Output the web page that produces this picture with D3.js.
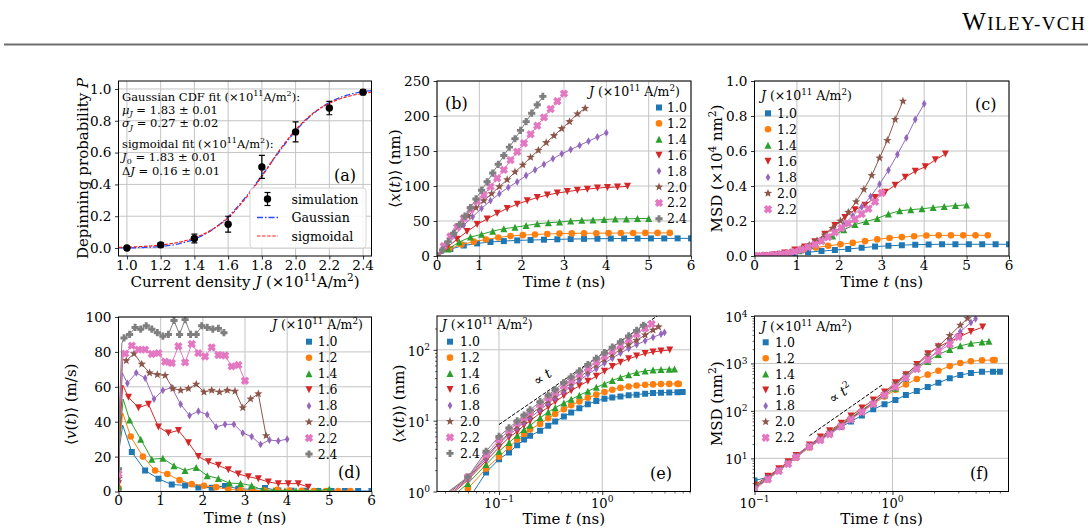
<!DOCTYPE html>
<html><head><meta charset="utf-8">
<script src="https://cdn.jsdelivr.net/npm/d3@7"></script>
<style>
body{margin:0;background:#fff}
svg{display:block}
text{font-family:'DejaVu Serif',serif;fill:#000}
</style>
</head><body>
<script>
// ================= DATA =================
const seriesJ = ['1.0','1.2','1.4','1.6','1.8','2.0','2.2','2.4'];
const colors = ['#1f77b4','#ff7f0e','#2ca02c','#d62728','#9467bd','#8c564b','#e377c2','#7f7f7f'];
const markers = ['s','o','^','v','d','*','X','P'];
const tMax = [6, 5.5, 5, 4.5, 4, 3.5, 3, 2.5];   // simulated duration of each series (ns)
const nLin = 20;                                  // samples per series on the linear plots

// (a) depinning probability
const depJ   = [1.0,1.2,1.4,1.6,1.8,2.0,2.2,2.4];
const depP   = [0.0,0.02,0.06,0.15,0.51,0.73,0.88,0.98];
const depErr = [0.008,0.014,0.028,0.05,0.072,0.063,0.042,0.016];
const fitJ     = [0.95,1.0,1.1,1.2,1.3,1.4,1.5,1.6,1.7,1.8,1.9,2.0,2.1,2.2,2.3,2.4,2.45];
const fitGauss = [0.0006,0.001,0.0035,0.0099,0.025,0.056,0.111,0.197,0.315,0.456,0.602,0.736,0.841,0.915,0.959,0.983,0.989];
const fitSigm  = [0.004,0.0055,0.0104,0.019,0.035,0.064,0.113,0.19,0.308,0.45,0.608,0.743,0.844,0.91,0.95,0.972,0.98];

// (b) <x(t)> in nm, linear time samples
const posLin = [
 [0,10,15,18,20,21.3,22.3,22.8,23.3,23.8,24.2,24.5,24.7,24.9,25,25,25.1,25.1,25.2,25.2],
 [0,10,16.5,20.5,23.5,26.5,28.5,29.8,30.8,31.5,32,32.3,32.5,32.6,32.7,32.8,32.9,33,33,33],
 [0,10,20,27,31,35.5,39,41,43.5,46,47.5,48.5,50,51,51.5,52,53,53,53.5,53.5],
 [0,12,24,35,45,53,61,68,74,79,83.5,87,90,92,94,95.5,97,98,98.5,99.5],
 [0,15,30,44,56,68,79,89,98,106,115,123,131,139,146,152,158,164,170,176],
 [0,16,31,45,57,69,79,89,99,109,120,130,141,151,162,172,182,192,203,211],
 [0,14,28,41,54,66,78,87,99,111,123,137,149,161,174,186,198,210,221,232],
 [0,8.5,20.5,32.5,45,57,69,81.5,94,106,118.5,131,143.5,155.5,167.5,179.5,192,204,216,228]
];
// (c) MSD in 1e4 nm^2, linear time samples
const msdLin = [
 [0,.0025,.008,.015,.022,.028,.034,.04,.047,.054,.058,.062,.065,.066,.067,.067,.067,.067,.067,.067],
 [0,.003,.01,.024,.037,.048,.058,.067,.075,.085,.095,.103,.108,.113,.117,.118,.118,.118,.118,.118],
 [0,.002,.006,.014,.03,.058,.089,.115,.15,.18,.197,.215,.24,.258,.265,.27,.277,.283,.288,.292],
 [0,.002,.007,.017,.035,.052,.082,.125,.175,.22,.265,.29,.335,.365,.405,.45,.485,.51,.55,.583],
 [0,.0015,.005,.011,.02,.035,.055,.08,.105,.14,.18,.23,.28,.34,.41,.49,.58,.675,.78,.87],
 [0,.0015,.005,.01,.017,.028,.043,.062,.088,.12,.158,.2,.25,.31,.38,.46,.56,.66,.78,.885],
 [0,.001,.003,.006,.01,.016,.025,.036,.05,.066,.085,.108,.135,.16,.185,.21,.24,.27,.31,.36]
];
// (d) <v(t)> in m/s, linear time samples
const velLin = [
 [1,22.6,12,7.3,4,3.5,2.3,2.2,3.2,1.6,1.2,2.0,0.6,0.4,0.4,0.3,0.3,0.3,0.3,0.3],
 [2,31.5,20,12,10,6.5,4.2,3.3,2.5,1.2,0.8,0.6,0.5,1.0,0.5,0.4,0.3,0.3,0.3,0.3],
 [3,41,30,18.5,19,14.7,12,13.8,9,7.5,4.8,4.6,3.4,0.8,0.6,0.5,0.5,0.4,0.4,1.5],
 [4.5,54,48,50,37,33.5,35,28,20,17,15,12.5,10,8.5,7.3,5.5,4.5,4.5,4.5,2.5],
 [6,62,68,65,53,58,59.5,50,43.5,46,44,37,38.5,38.5,33.5,31.5,27,29.5,29,30],
 [7.5,75,79,73,68,67,66.5,59,58,59,61.5,57,58,57,58,57.5,48,53,56,32],
 [10,79,83.6,81.3,81.3,78.8,79.3,74.4,73.6,83.2,74,84.5,79.3,77.4,82.6,78.2,77.9,71.7,72.5,63.5],
 [13,88,90,94,93,95,93,91,89,90,98,90,98.5,90,90,95,94,93,93.5,91]
];
// (d) early (unmarked) samples of the velocity lines [t, v]
const velEarly = [
 [[0.025,26],[0.1,38]], [[0.025,28],[0.1,45]], [[0.025,30],[0.11,53]], [[0.025,33],[0.1,61]],
 [[0.025,38],[0.09,68]], [[0.025,42],[0.1,76]], [[0.025,45],[0.1,80]], [[0.025,50],[0.08,85]]
];
// (e) <x(t)> on log-spaced samples (last value of each row is at tMax)
const timeLog = [0.025,0.05,0.075,0.1,0.125,0.15,0.175,0.2,0.25,0.3,0.35,0.425,0.5,0.6,0.725,0.875,1.05,1.25,1.5,1.8,2.15,2.6,3.1,3.7,4.45,5.35];
const posLog = [
 [.3,.75,1.85,2.86,3.55,4.5,5.4,6.1,7.2,8.5,9.7,11.4,13,15,17,19,20.3,21.3,22,22.8,23.3,24,24.5,24.8,25,25.2,25.3],
 [.45,1.1,2.1,3.1,4.2,5.4,6.5,7.5,9,10.8,12.4,14.5,16.5,18.7,21,23.3,25.3,27.3,29,30.4,31.3,32,32.5,32.8,33,33,33],
 [.55,1.3,2.4,3.7,4.9,6.2,7.5,8.6,11,13.2,15.2,17.7,20,22.8,26,29.5,33,37,40.8,44.5,47.7,50.3,51.8,52.8,53.3,53.5],
 [.6,1.45,2.7,4.2,5.8,7,8.6,9.9,12.8,15.6,18.5,22.5,26.5,31,36,42.5,50,58,67,74.5,81.5,88.5,93,96.5,99.5],
 [.65,1.5,2.9,4.7,6.3,7.8,9.4,11,14.2,17.5,20.8,25.5,30.5,37,45,54,65,76,90,104,118,134,150,167,176],
 [.7,1.55,3.1,4.9,6.7,8.4,10.2,12,15.6,19.4,23,28.5,34,41,50,61,73,85,101,118,136,162,190,211],
 [.72,1.6,3.3,5.4,7.3,9.2,11.1,13,17,21,25,31,37,45,55,67,81,96,116,140,167,201,232],
 [.75,1.6,3.7,6,7.9,9.9,12,14.2,18.5,23,27.5,34.5,41.5,50.5,62,76,91,109,130,157,188,222]
];
// (f) MSD in nm^2 on log-spaced samples (last value of each row is at tMax)
const timeLogMSD = [0.1,0.125,0.15,0.175,0.2,0.25,0.3,0.35,0.425,0.5,0.6,0.725,0.875,1.05,1.25,1.5,1.8,2.15,2.6,3.1,3.7,4.45,5.35];
const msdLog = [
 [3.4,4,5.6,8,10.5,18,25,33,46,60,80,108,138,170,215,262,320,390,490,570,630,665,670,670],
 [2.6,3.6,5.5,7.8,10.5,17,25,35,50,70,98,140,200,280,360,470,580,700,880,1020,1110,1165,1180,1185],
 [2.5,4,5.8,8.2,11,18,26,36,52,72,105,150,215,300,480,800,1100,1550,1960,2350,2650,2830,2920],
 [2.7,4.2,6,8.5,11.5,19,28,38,55,78,115,170,250,390,580,950,1600,2250,2900,3700,4700,5830],
 [2.4,3.9,5.7,8,11,19,26,35,50,70,100,150,230,350,540,830,1250,1850,3000,4700,7300,8700],
 [2.3,3.7,5.5,7.8,10.5,17.5,25,34,50,70,100,150,230,370,580,910,1500,2300,3900,6400,8850],
 [2.2,3.6,5.4,7.6,10.5,17.5,24,32,47,66,95,140,215,320,490,760,1200,1800,2500,3600]
];
// guide lines
const guideE = [[0.1,8.8],[3.4,300]];
const guideF = [[0.25,30],[0.85,360]];

// tick values
const ticksAx = [1.0,1.2,1.4,1.6,1.8,2.0,2.2,2.4];
const ticksAy = [0,0.2,0.4,0.6,0.8,1.0];
const ticksT  = [0,1,2,3,4,5,6];
const ticksB  = [0,50,100,150,200,250];
const ticksC  = [0,0.2,0.4,0.6,0.8,1.0];
const ticksD  = [0,20,40,60,80,100];
const ticksLogT = [0.1,1];
const ticksEy = [1,10,100];
const ticksFy = [10,100,1000,10000];
const minorEx = [0.03,0.04,0.05,0.06,0.07,0.08,0.09,0.2,0.3,0.4,0.5,0.6,0.7,0.8,0.9,2,3,4,5,6,7];
const minorEy = [2,3,4,5,6,7,8,9,20,30,40,50,60,70,80,90,200];
const minorFx = [0.2,0.3,0.4,0.5,0.6,0.7,0.8,0.9,2,3,4,5,6];
const minorFy = [3,4,5,6,7,8,9,20,30,40,50,60,70,80,90,200,300,400,500,600,700,800,900,2000,3000,4000,5000,6000,7000,8000,9000];

// ================= RENDER =================
const W = 1092, H = 531;
const FS_TICK = 13.6, FS_LAB = 15, FS_LEG = 12.5, FS_PAN = 16;
const GRID = '#c4c4c4';
const svg = d3.select('body').append('svg').attr('width', W).attr('height', H);
const defs = svg.append('defs');

function rich(sel, str, size) {
  const re = /(\*[^*]+\*|\^\{[^}]*\}|_\{[^}]*\})/g;
  const parts = str.split(re).filter(s => s && s.length);
  let cur = 0;
  parts.forEach(p => {
    let txt = p, off = 0, fs = null, ital = false;
    if (p.length > 2 && p[0] === '*' && p[p.length-1] === '*') { txt = p.slice(1,-1); ital = true; }
    else if (p.startsWith('^{')) { txt = p.slice(2,-1); off = -0.42*size; fs = 0.7*size; }
    else if (p.startsWith('_{')) { txt = p.slice(2,-1); off = 0.22*size; fs = 0.7*size; }
    if (txt.length > 2 && txt[0] === '*' && txt[txt.length-1] === '*') { txt = txt.slice(1,-1); ital = true; }
    const ts = sel.append('tspan').text(txt);
    if (off !== cur) ts.attr('dy', (off - cur).toFixed(2));
    cur = off;
    if (fs) ts.attr('font-size', fs.toFixed(2));
    if (ital) ts.attr('font-style', 'italic');
  });
  return sel;
}
function txt(parent, x, y, str, size, anchor, extra) {
  const t = parent.append('text').attr('x', x).attr('y', y).attr('font-size', size)
    .attr('text-anchor', anchor || 'start');
  if (extra) t.attr('transform', extra);
  return rich(t, str, size);
}

function mpath(type, s) {
  const h = s/2;
  const poly = pts => 'M' + pts.map(p => p[0].toFixed(2)+','+p[1].toFixed(2)).join('L') + 'Z';
  const plus = (w) => [[-w,-h],[w,-h],[w,-w],[h,-w],[h,w],[w,w],[w,h],[-w,h],[-w,w],[-h,w],[-h,-w],[-w,-w]];
  switch (type) {
    case 's': return `M${-h},${-h}H${h}V${h}H${-h}Z`;
    case 'o': return `M${h},0A${h},${h},0,1,1,${-h},0A${h},${h},0,1,1,${h},0Z`;
    case '^': return poly([[0,-h],[h,h],[-h,h]]);
    case 'v': return poly([[0,h],[h,-h],[-h,-h]]);
    case 'd': return poly([[0,-h],[h*0.6,0],[0,h],[-h*0.6,0]]);
    case '*': { const pts=[]; for (let i=0;i<10;i++){ const r = i%2 ? h*0.42 : h; const a = -Math.PI/2 + i*Math.PI/5; pts.push([r*Math.cos(a), r*Math.sin(a)]); } return poly(pts); }
    case 'P': return poly(plus(h*0.4));
    case 'X': { const c = Math.SQRT1_2; return poly(plus(h*0.42).map(p => [(p[0]-p[1])*c, (p[0]+p[1])*c])); }
  }
}
const mSize = {s:6, o:6.6, '^':7, v:7, d:7.8, '*':8.8, X:8.4, P:7.2};

function makePanel(id, box, x, y) {
  const g = svg.append('g');
  defs.append('clipPath').attr('id', 'cp'+id).append('rect')
    .attr('x', box.l).attr('y', box.t).attr('width', box.r-box.l).attr('height', box.b-box.t);
  const P = {id, box, x, y, g};
  P.grid = g.append('g');
  P.data = g.append('g').attr('clip-path', `url(#cp${id})`);
  P.axes = g.append('g');
  P.over = g.append('g');
  return P;
}
function gridAxes(P, o) {
  const {l,r,t,b} = P.box;
  P.grid.selectAll('.gx').data(o.xt).join('line').attr('class','gx')
    .attr('x1', d => P.x(d)).attr('x2', d => P.x(d)).attr('y1', t).attr('y2', b)
    .attr('stroke', GRID).attr('stroke-width', 1);
  P.grid.selectAll('.gy').data(o.yt).join('line').attr('class','gy')
    .attr('y1', d => P.y(d)).attr('y2', d => P.y(d)).attr('x1', l).attr('x2', r)
    .attr('stroke', GRID).attr('stroke-width', 1);
  const ax = P.axes;
  const xa = ax.append('g').attr('transform', `translate(0,${b})`)
    .call(d3.axisBottom(P.x).tickValues(o.xt).tickSize(3.5).tickFormat(''));
  const ya = ax.append('g').attr('transform', `translate(${l},0)`)
    .call(d3.axisLeft(P.y).tickValues(o.yt).tickSize(3.5).tickFormat(''));
  [xa, ya].forEach(a => { a.select('.domain').remove(); a.selectAll('line').attr('stroke','#000').attr('stroke-width',0.8); a.selectAll('text').remove(); });
  if (o.xminor) ax.append('g').attr('transform', `translate(0,${b})`)
    .call(d3.axisBottom(P.x).tickValues(o.xminor).tickSize(2).tickFormat(''))
    .call(a => { a.select('.domain').remove(); a.selectAll('line').attr('stroke','#000').attr('stroke-width',0.6); a.selectAll('text').remove(); });
  if (o.yminor) ax.append('g').attr('transform', `translate(${l},0)`)
    .call(d3.axisLeft(P.y).tickValues(o.yminor).tickSize(2).tickFormat(''))
    .call(a => { a.select('.domain').remove(); a.selectAll('line').attr('stroke','#000').attr('stroke-width',0.6); a.selectAll('text').remove(); });
  o.xt.forEach(d => txt(ax, P.x(d), b + (o.xlog ? 16 : 13.6), o.xf(d), o.xlog ? 13 : FS_TICK, 'middle'));
  o.yt.forEach(d => txt(ax, l - 7, P.y(d) + (o.ylog ? 6 : 4.9), o.yf(d), o.ylog ? 13 : FS_TICK, 'end'));
  // spines
  P.over.append('rect').attr('x', l).attr('y', t).attr('width', r-l).attr('height', b-t)
    .attr('fill','none').attr('stroke','#000').attr('stroke-width',1);
  txt(P.over, (l+r)/2, b + (o.xlog ? 32 : 31), o.xlab, FS_LAB, 'middle');
  txt(P.over, 0, 0, o.ylab, FS_LAB, 'middle', `translate(${o.ylabX},${(t+b)/2}) rotate(-90)`);
}
function drawSeries(P, linePts, markPts, i) {
  const line = d3.line().x(d => P.x(d[0])).y(d => P.y(d[1]));
  P.data.append('path').attr('d', line(linePts)).attr('fill','none')
    .attr('stroke', colors[i]).attr('stroke-width', 1);
  P.data.append('g').selectAll('path').data(markPts).join('path')
    .attr('transform', d => `translate(${P.x(d[0]).toFixed(2)},${P.y(d[1]).toFixed(2)})`)
    .attr('d', mpath(markers[i], mSize[markers[i]])).attr('fill', colors[i]);
}
function legend(P, o, n) {
  txt(P.over, o.titleX, o.titleY, '*J* (×10^{11} A/m^{2})', FS_LEG, 'start');
  for (let i = 0; i < n; i++) {
    const yy = o.y0 + i*o.dy;
    P.over.append('path').attr('transform', `translate(${o.mx},${yy})`)
      .attr('d', mpath(markers[i], mSize[markers[i]])).attr('fill', colors[i]);
    txt(P.over, o.tx, yy + 4.5, seriesJ[i], FS_LEG, 'start');
  }
}
const linTimes = (tm) => d3.range(nLin).map(k => k * tm / (nLin - 1));
const logFmt = d => '10^{' + String(Math.round(Math.log10(d))).replace('-', '−') + '}';

// ---------- header ----------
const hdr = svg.append('text').attr('x', 1086).attr('y', 29.5).attr('text-anchor','end')
  .style('font-family', "'Liberation Serif', serif").attr('letter-spacing', 1.4);
hdr.append('tspan').attr('font-size', 25).text('W');
hdr.append('tspan').attr('font-size', 19).text('ILEY-VCH');
svg.append('line').attr('x1', 4).attr('x2', 1088).attr('y1', 44.5).attr('y2', 44.5)
  .attr('stroke', '#6e6e6e').attr('stroke-width', 2);

// ---------- (a) ----------
{
  const box = {l:118.5, r:371.5, t:81, b:256};
  const P = makePanel('a', box, d3.scaleLinear().domain([0.95,2.45]).range([box.l, box.r]),
                               d3.scaleLinear().domain([-0.05,1.05]).range([box.b, box.t]));
  gridAxes(P, {xt:ticksAx, yt:ticksAy, xf:d=>d.toFixed(1), yf:d=>d.toFixed(1),
    xlab:'Current density *J* (×10^{11}A/m^{2})', ylab:'Depinning probability *P*', ylabX:88});
  const line = d3.line().curve(d3.curveMonotoneX).x(d => P.x(d[0])).y(d => P.y(d[1]));
  P.data.append('path').attr('d', line(fitJ.map((j,k)=>[j, fitGauss[k]]))).attr('fill','none')
    .attr('stroke','#2a48ff').attr('stroke-width',1.3).attr('stroke-dasharray','6,2,1.5,2');
  P.data.append('path').attr('d', line(fitJ.map((j,k)=>[j, fitSigm[k]]))).attr('fill','none')
    .attr('stroke','#ff1a1a').attr('stroke-width',1.2).attr('stroke-dasharray','3.5,1.6');
  depJ.forEach((j,k) => {
    const xx = P.x(j), y1 = P.y(depP[k]-depErr[k]), y2 = P.y(depP[k]+depErr[k]);
    const eg = P.data.append('g');
    eg.append('line').attr('x1',xx).attr('x2',xx).attr('y1',y1).attr('y2',y2).attr('stroke','#000').attr('stroke-width',1.2);
    [y1,y2].forEach(yy => eg.append('line').attr('x1',xx-3).attr('x2',xx+3).attr('y1',yy).attr('y2',yy).attr('stroke','#000').attr('stroke-width',1.2));
    eg.append('circle').attr('cx',xx).attr('cy',P.y(depP[k])).attr('r',3.7).attr('fill','#000');
  });
  const ann = ['Gaussian CDF fit (×10^{11}A/m^{2}):', '*μ*_{*J*} = 1.83 ± 0.01', '*σ*_{*J*} = 0.27 ± 0.02',
               'sigmoidal fit (×10^{11}A/m^{2}):', '*J*_{0} = 1.83 ± 0.01', 'Δ*J* = 0.16 ± 0.01'];
  const annY = [100.5, 113.5, 127, 147.5, 161, 174.5];
  ann.forEach((s,k) => txt(P.over, 122, annY[k], s, 11.5, 'start'));
  txt(P.over, 334, 181, '(a)', FS_PAN, 'start');
  // legend
  const L = P.over.append('g');
  L.append('rect').attr('x',250).attr('y',188).attr('width',116).attr('height',60).attr('rx',3)
    .attr('fill','#fff').attr('fill-opacity',0.85).attr('stroke','#cccccc').attr('stroke-width',0.8);
  const hx = 267.5;
  L.append('line').attr('x1',hx).attr('x2',hx).attr('y1',192.5).attr('y2',205.5).attr('stroke','#000').attr('stroke-width',1.2);
  [192.5,205.5].forEach(yy => L.append('line').attr('x1',hx-3).attr('x2',hx+3).attr('y1',yy).attr('y2',yy).attr('stroke','#000').attr('stroke-width',1.2));
  L.append('circle').attr('cx',hx).attr('cy',199).attr('r',3.7).attr('fill','#000');
  L.append('line').attr('x1',257).attr('x2',278).attr('y1',217.5).attr('y2',217.5).attr('stroke','#2a48ff').attr('stroke-width',1.3).attr('stroke-dasharray','6,2,1.5,2');
  L.append('line').attr('x1',257).attr('x2',278).attr('y1',236).attr('y2',236).attr('stroke','#ff1a1a').attr('stroke-width',1.2).attr('stroke-dasharray','3.5,1.6');
  txt(L, 291.5, 203.5, 'simulation', 12.6, 'start');
  txt(L, 291.5, 222, 'Gaussian', 12.6, 'start');
  txt(L, 291.5, 240.5, 'sigmoidal', 12.6, 'start');
}

// ---------- (b) ----------
{
  const box = {l:437, r:691, t:81, b:256};
  const P = makePanel('b', box, d3.scaleLinear().domain([0,6]).range([box.l, box.r]),
                               d3.scaleLinear().domain([0,250]).range([box.b, box.t]));
  gridAxes(P, {xt:ticksT, yt:ticksB, xf:d=>String(d), yf:d=>String(d),
    xlab:'Time *t* (ns)', ylab:'⟨*x*(*t*)⟩ (nm)', ylabX:400});
  posLin.forEach((vals,i) => { const ts = linTimes(tMax[i]); const pts = vals.map((v,k)=>[ts[k], v]); drawSeries(P, pts, pts, i); });
  legend(P, {titleX:589, titleY:96, mx:659, tx:667, y0:107.5, dy:15.9}, 8);
  txt(P.over, 445, 109, '(b)', FS_PAN, 'start');
}

// ---------- (c) ----------
{
  const box = {l:754.5, r:1009, t:81, b:256};
  const P = makePanel('c', box, d3.scaleLinear().domain([0,6]).range([box.l, box.r]),
                               d3.scaleLinear().domain([0,1]).range([box.b, box.t]));
  gridAxes(P, {xt:ticksT, yt:ticksC, xf:d=>String(d), yf:d=>d.toFixed(1),
    xlab:'Time *t* (ns)', ylab:'MSD (×10^{4} nm^{2})', ylabX:722});
  msdLin.forEach((vals,i) => { const ts = linTimes(tMax[i]); const pts = vals.map((v,k)=>[ts[k], v]); drawSeries(P, pts, pts, i); });
  legend(P, {titleX:761, titleY:100, mx:768, tx:777, y0:113.3, dy:16}, 7);
  txt(P.over, 975, 110, '(c)', FS_PAN, 'start');
}

// ---------- (d) ----------
{
  const box = {l:118.5, r:371.5, t:317, b:491.5};
  const P = makePanel('d', box, d3.scaleLinear().domain([0,6]).range([box.l, box.r]),
                               d3.scaleLinear().domain([0,100]).range([box.b, box.t]));
  gridAxes(P, {xt:ticksT, yt:ticksD, xf:d=>String(d), yf:d=>String(d),
    xlab:'Time *t* (ns)', ylab:'⟨*v*(*t*)⟩ (m/s)', ylabX:76});
  velLin.forEach((vals,i) => {
    const ts = linTimes(tMax[i]);
    const marks = vals.map((v,k)=>[ts[k], v]);
    const linePts = [marks[0]].concat(velEarly[i], marks.slice(1));
    drawSeries(P, linePts, marks, i);
  });
  legend(P, {titleX:272, titleY:329, mx:309, tx:317.7, y0:341.7, dy:16.05}, 8);
  txt(P.over, 338, 478, '(d)', FS_PAN, 'start');
}

// ---------- (e) ----------
{
  const box = {l:437, r:690.5, t:316, b:491.5};
  const P = makePanel('e', box, d3.scaleLog().domain([Math.pow(10,-1.6), Math.pow(10,0.854)]).range([box.l, box.r]),
                               d3.scaleLog().domain([1,300]).range([box.b, box.t]));
  gridAxes(P, {xt:ticksLogT, yt:ticksEy, xf:logFmt, yf:logFmt, xlog:true, ylog:true,
    xminor:minorEx, yminor:minorEy, xlab:'Time *t* (ns)', ylab:'⟨*x*(*t*)⟩ (nm)', ylabX:404});
  const gl = d3.line().x(d => P.x(d[0])).y(d => P.y(d[1]));
  P.data.append('path').attr('d', gl(guideE)).attr('fill','none').attr('stroke','#000')
    .attr('stroke-width',1).attr('stroke-dasharray','3.7,1.6');
  posLog.forEach((vals,i) => {
    const ts = timeLog.slice(0, vals.length-1).concat([tMax[i]]);
    const pts = vals.map((v,k)=>[ts[k], v]);
    drawSeries(P, pts, pts, i);
  });
  txt(P.over, 0, 0, '∝ *t*', 13.5, 'middle', 'translate(545,381) rotate(-34.4)');
  legend(P, {titleX:441.7, titleY:329, mx:450, tx:460, y0:341.7, dy:15.95}, 8);
  txt(P.over, 650, 479, '(e)', FS_PAN, 'start');
}

// ---------- (f) ----------
{
  const box = {l:754.5, r:1008.5, t:316, b:491.5};
  const P = makePanel('f', box, d3.scaleLog().domain([0.1, Math.pow(10,0.8406)]).range([box.l, box.r]),
                               d3.scaleLog().domain([2,10000]).range([box.b, box.t]));
  gridAxes(P, {xt:ticksLogT, yt:ticksFy, xf:logFmt, yf:logFmt, xlog:true, ylog:true,
    xminor:minorFx, yminor:minorFy, xlab:'Time *t* (ns)', ylab:'MSD (nm^{2})', ylabX:722});
  const gl = d3.line().x(d => P.x(d[0])).y(d => P.y(d[1]));
  P.data.append('path').attr('d', gl(guideF)).attr('fill','none').attr('stroke','#000')
    .attr('stroke-width',1).attr('stroke-dasharray','3.7,1.6');
  msdLog.forEach((vals,i) => {
    const ts = timeLogMSD.slice(0, vals.length-1).concat([tMax[i]]);
    const pts = vals.map((v,k)=>[ts[k], v]);
    drawSeries(P, pts, pts, i);
  });
  txt(P.over, 0, 0, '∝ *t*^{2}', 13.5, 'middle', 'translate(843,397) rotate(-34.4)');
  legend(P, {titleX:761, titleY:331, mx:765.7, tx:775, y0:342.3, dy:15.9}, 7);
  txt(P.over, 970, 479, '(f)', FS_PAN, 'start');
}
</script>
</body></html>
